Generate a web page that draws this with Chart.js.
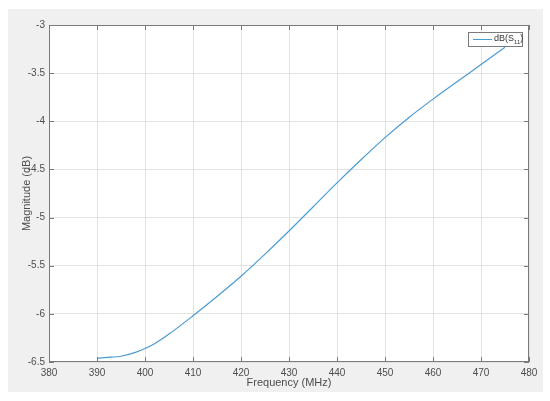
<!DOCTYPE html>
<html>
<head>
<meta charset="utf-8">
<script src="https://cdn.jsdelivr.net/npm/chart.js@4"></script>
<style>
  html, body { margin: 0; padding: 0; background: #fff; }
  #wrap { width: 550px; height: 401px; position: relative; }
</style>
</head>
<body>
<div id="wrap"><canvas id="chart" width="550" height="401"></canvas></div>
<script>
// === DATA ===
const freqs = [390, 393, 395, 398, 400, 402, 405, 410, 415, 420, 425, 430, 435, 440, 445, 450, 455, 460, 465, 470, 475];
const s11Db = [-6.46, -6.45, -6.44, -6.40, -6.36, -6.31, -6.21, -6.02, -5.82, -5.61, -5.38, -5.14, -4.89, -4.64, -4.40, -4.17, -3.96, -3.77, -3.59, -3.41, -3.23];
const xTicks = [380, 390, 400, 410, 420, 430, 440, 450, 460, 470, 480];
const yTicks = [-6.5, -6, -5.5, -5, -4.5, -4, -3.5, -3];

const AXIS_COLOR = '#7a7a7a';
const TEXT_COLOR = '#4d4d4d';
const LINE_COLOR = '#4a9bd2';
const FONT = "'Liberation Sans', Arial, sans-serif";

// gray figure background, box, inward ticks, titles, legend
const matlabLook = {
    id: 'matlabLook',
    beforeDraw(chart) {
        const ctx = chart.ctx;
        const a = chart.chartArea;
        ctx.save();
        ctx.fillStyle = '#f0f0f0';
        ctx.fillRect(8, 9, 535, 383);
        ctx.fillStyle = '#ffffff';
        ctx.fillRect(a.left, a.top, a.right - a.left, a.bottom - a.top);
        ctx.restore();
    },
    afterDraw(chart) {
        const ctx = chart.ctx;
        const a = chart.chartArea;
        const xs = chart.scales.x, ys = chart.scales.y;
        ctx.save();
        ctx.strokeStyle = AXIS_COLOR;
        ctx.lineWidth = 1;
        ctx.strokeRect(a.left + 0.5, a.top + 0.5, a.right - a.left - 1, a.bottom - a.top - 1);
        ctx.beginPath();
        xTicks.forEach(v => {
            const px = Math.round(xs.getPixelForValue(v)) + 0.5;
            ctx.moveTo(px, a.bottom); ctx.lineTo(px, a.bottom - 5);
            ctx.moveTo(px, a.top); ctx.lineTo(px, a.top + 5);
        });
        yTicks.forEach(v => {
            const py = Math.round(ys.getPixelForValue(v)) + 0.5;
            ctx.moveTo(a.left, py); ctx.lineTo(a.left + 5, py);
            ctx.moveTo(a.right, py); ctx.lineTo(a.right - 5, py);
        });
        ctx.stroke();

        // axis titles
        ctx.fillStyle = TEXT_COLOR;
        ctx.font = '11px ' + FONT;
        ctx.textAlign = 'center';
        ctx.textBaseline = 'middle';
        ctx.fillText('Frequency (MHz)', (a.left + a.right) / 2, 383);
        ctx.save();
        ctx.translate(27, (a.top + a.bottom) / 2);
        ctx.rotate(-Math.PI / 2);
        ctx.fillText('Magnitude (dB)', 0, 0);
        ctx.restore();

        // legend box
        const bx = 468, by = 32, bw = 55, bh = 15;
        ctx.fillStyle = '#ffffff';
        ctx.fillRect(bx, by, bw, bh);
        ctx.strokeStyle = '#7a7a7a';
        ctx.strokeRect(bx + 0.5, by + 0.5, bw - 1, bh - 1);
        ctx.strokeStyle = LINE_COLOR;
        ctx.beginPath();
        ctx.moveTo(bx + 5, by + 7.5); ctx.lineTo(bx + 24, by + 7.5);
        ctx.stroke();
        ctx.fillStyle = '#333';
        ctx.textAlign = 'left';
        ctx.font = '9px ' + FONT;
        let tx = bx + 26;
        ctx.fillText('dB(S', tx, by + 7);
        tx += ctx.measureText('dB(S').width;
        ctx.font = '6px ' + FONT;
        ctx.fillText('11', tx, by + 10);
        tx += ctx.measureText('11').width;
        ctx.font = '9px ' + FONT;
        ctx.fillText(')', tx, by + 7);
        ctx.restore();
    }
};

const ctx = document.getElementById('chart').getContext('2d');

new Chart(ctx, {
    type: 'line',
    data: {
        labels: freqs,
        datasets: [{
            label: 'dB(S11)',
            data: freqs.map((f, i) => ({ x: f, y: s11Db[i] })),
            borderColor: LINE_COLOR,
            borderWidth: 1.2,
            pointRadius: 0,
            cubicInterpolationMode: 'monotone',
            fill: false
        }]
    },
    options: {
        responsive: false,
        animation: false,
        layout: { padding: { left: 0, top: 25, right: 21, bottom: 0 } },
        plugins: {
            legend: { display: false },
            tooltip: { enabled: false }
        },
        scales: {
            x: {
                type: 'linear',
                min: 380,
                max: 480,
                afterBuildTicks: s => { s.ticks = xTicks.map(v => ({ value: v })); },
                afterFit: s => { s.height = 39; },
                grid: { color: '#e3e3e3', drawTicks: false },
                border: { display: false },
                ticks: { color: TEXT_COLOR, padding: 5, font: { size: 10, family: FONT }, maxRotation: 0, callback: v => String(v) }
            },
            y: {
                type: 'linear',
                min: -6.5,
                max: -3,
                afterBuildTicks: s => { s.ticks = yTicks.map(v => ({ value: v })); },
                afterFit: s => { s.width = 49; },
                grid: { color: '#e3e3e3', drawTicks: false },
                border: { display: false },
                ticks: { color: TEXT_COLOR, padding: 4, font: { size: 10, family: FONT }, callback: v => String(v) }
            }
        }
    },
    plugins: [matlabLook]
});
</script>
</body>
</html>
